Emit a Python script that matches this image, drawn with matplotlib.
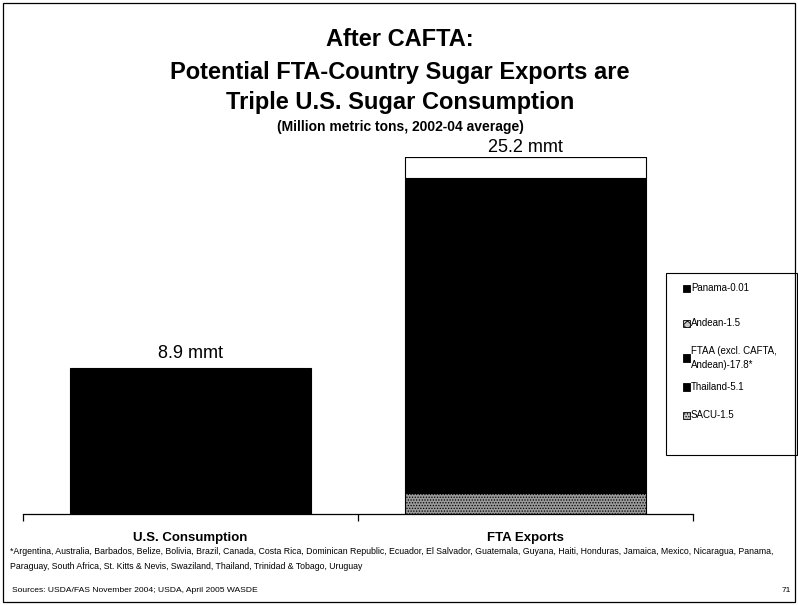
import matplotlib
matplotlib.use("Agg")
import matplotlib.pyplot as plt
from matplotlib.patches import Rectangle

# ---------------- data ----------------
categories = ["U.S. Consumption", "FTA Exports"]
us_bar_height = [10.6]            # bar height as drawn in the picture
value_labels = ["8.9 mmt", "25.2 mmt"]
stack_names = ["SACU-1.5", "Thailand-5.1", "FTAA (excl. CAFTA,\nAndean)-17.8*", "Andean-1.5", "Panama-0.01"]
stack_values = [1.5, 5.1, 17.8, 1.5, 0.01]

title_lines = ["After CAFTA:", "Potential FTA-Country Sugar Exports are", "Triple U.S. Sugar Consumption"]
subtitle = "(Million metric tons, 2002-04 average)"
footnote = ("*Argentina, Australia, Barbados, Belize, Bolivia, Brazil, Canada, Costa Rica, Dominican Republic, Ecuador, El Salvador, Guatemala, Guyana, Haiti, Honduras, Jamaica, Mexico, Nicaragua, Panama,\n"
            "Paraguay, South Africa, St. Kitts & Nevis, Swaziland, Thailand, Trinidad & Tobago, Uruguay")
sources = "Sources: USDA/FAS November 2004; USDA, April 2005 WASDE"
page_no = "71"

FONT = "Liberation Sans"
plt.rcParams["hatch.linewidth"] = 0.6

W, H = 798, 605
fig = plt.figure(figsize=(W / 100, H / 100), dpi=100)

def fx(x): return x / W
def fy(y): return 1 - y / H

# frame around slide
fig.patches.append(Rectangle((fx(3), fy(602)), fx(795) - fx(3), fy(3) - fy(602),
                             transform=fig.transFigure, fill=False, lw=0.9, ec="black"))

# axes: x 23..693, y 157..514
ax = fig.add_axes([fx(23), fy(514), fx(693) - fx(23), fy(157) - fy(514)])
total = sum(stack_values)
ax.set_ylim(0, total)
ax.set_xlim(-0.5, 1.5)

bw = 0.72
ax.bar([0], us_bar_height, width=bw, color="black", edgecolor="black", lw=0.8)

styles = [
    dict(color="#9a9a9a", hatch="......", edgecolor="black"),
    dict(color="black", edgecolor="black"),
    dict(color="black", edgecolor="black"),
    dict(color="white", edgecolor="black"),
    dict(color="black", edgecolor="black"),
]
legend_icon_hatch = ["......", None, None, "xxxx", None]
bottom = 0
for name, val, st in zip(stack_names, stack_values, styles):
    ax.bar([1], [val], bottom=bottom, width=bw, lw=0.8, **st)
    bottom += val

tops = [us_bar_height[0], total]
offsets = [4, 1]
for i, (t, lab, off) in enumerate(zip(tops, value_labels, offsets)):
    ax.annotate(lab, (i, t), xytext=(0, off), textcoords="offset points",
                ha="center", va="bottom", fontsize=13, family=FONT)

for s in ["top", "right", "left"]:
    ax.spines[s].set_visible(False)
ax.spines["bottom"].set_linewidth(0.9)
ax.set_yticks([])
ax.set_xticks([0, 1])
ax.set_xticklabels(categories, fontsize=9.5, fontweight="bold", family=FONT)
ax.tick_params(axis="x", which="major", length=0, pad=13)
ax.set_xticks([-0.5, 0.5, 1.5], minor=True)
ax.tick_params(axis="x", which="minor", length=5, width=0.9, direction="out")

# legend (manual, box 666..797 x 273..455)
fig.patches.append(Rectangle((fx(666), fy(455)), fx(797) - fx(666), fy(273) - fy(455),
                             transform=fig.transFigure, fill=False, lw=0.8, ec="black"))
legend_y = [415, 387, 358, 323, 288]   # vertical centres for SACU .. Panama
for name, st, ih, y in zip(stack_names, styles, legend_icon_hatch, legend_y):
    fc = st["color"] if ih is None else "#c8c8c8"
    fig.patches.append(Rectangle((fx(683), fy(y + 3.5)), fx(690) - fx(683), fy(y - 3.5) - fy(y + 3.5),
                                 transform=fig.transFigure, facecolor=fc, edgecolor="black",
                                 hatch=ih, lw=0.6))
    fig.text(fx(691), fy(y), name, ha="left", va="center", fontsize=7, family=FONT, linespacing=1.5)

# titles
ys = [40, 72, 102]
for t, y in zip(title_lines, ys):
    fig.text(fx(400), fy(y), t, ha="center", va="center", fontsize=17, fontweight="bold", family=FONT)
fig.text(fx(400), fy(127), subtitle, ha="center", va="center", fontsize=10, fontweight="bold", family=FONT)

fig.text(fx(10), fy(559), footnote, ha="left", va="center", fontsize=6.3, family=FONT, linespacing=1.75)
fig.text(fx(12), fy(590), sources, ha="left", va="center", fontsize=6.1, family=FONT)
fig.text(fx(786), fy(591), page_no, ha="center", va="center", fontsize=6, family=FONT)

fig.savefig("out.png", dpi=100)
